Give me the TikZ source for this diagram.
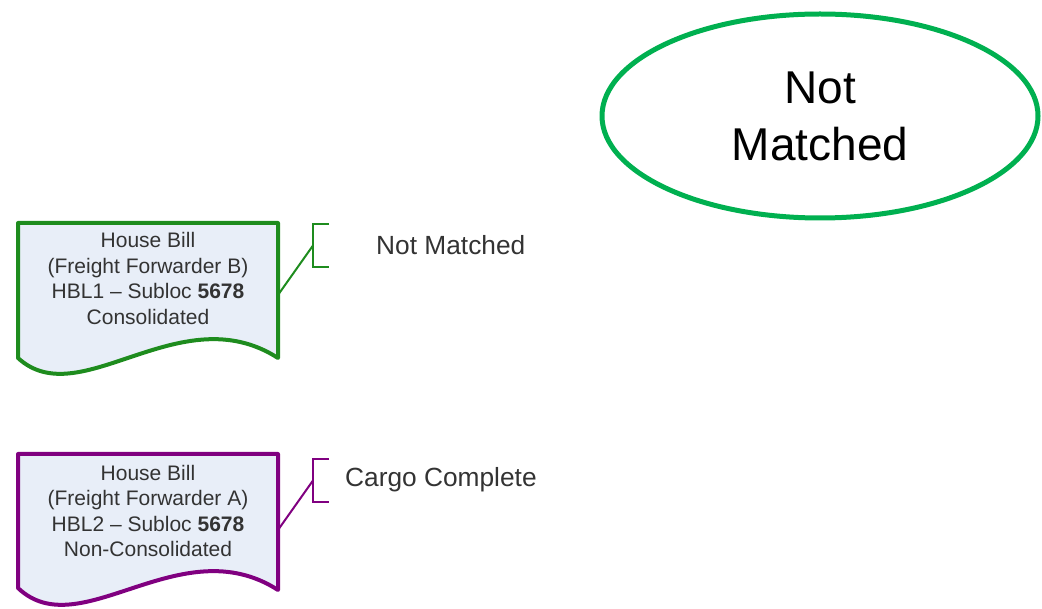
\documentclass[tikz,border=0pt]{standalone}
\usepackage{fontspec}
\setmainfont{Liberation Sans}
\usetikzlibrary{shapes.geometric}
\definecolor{docgreen}{RGB}{30,140,30}
\definecolor{docpurple}{RGB}{128,0,128}
\definecolor{ovalgreen}{RGB}{0,176,80}
\definecolor{docfill}{RGB}{232,238,248}
\definecolor{txtgray}{RGB}{51,51,51}
\tikzset{
  docshape/.style={line width=4pt, fill=docfill, line join=round},
  doctext/.style={align=center, inner sep=0pt, text=txtgray, font=\fontsize{21}{25.5}\selectfont},
  bracketline/.style={line width=2.5pt},
  linkline/.style={line width=2pt},
  lbl/.style={anchor=west, inner sep=0pt, text=txtgray, font=\fontsize{26.3}{30}\selectfont},
  oval/.style={ellipse, draw=ovalgreen, line width=5pt, minimum width=436pt, minimum height=204pt, inner sep=0pt, align=center, font=\fontsize{46}{57}\selectfont}
}
\begin{document}
\begin{tikzpicture}[x=1pt,y=-1pt]
\useasboundingbox (0,0) rectangle (1042,609);
% oval
\node[oval] (ov) at (820,116) {Not\\Matched};
% document 1
\draw[docshape, draw=docgreen] (18,223) -- (278,223) -- (278,358) .. controls (180,295) and (80,415) .. (18,358) -- cycle;
\node[doctext] (hb1) at (148,278.5) {House Bill\\(Freight Forwarder B)\\HBL1 -- Subloc \textbf{5678}\\Consolidated};
\coordinate (d1r) at (278,295);
\coordinate (b1) at (313,245.5);
\draw[bracketline, docgreen] (329,224) -- (313,224) -- (313,267) -- (329,267);
\draw[linkline, docgreen] (d1r) -- (b1);
\node[lbl] (l1) at (376,245) {Not Matched};
% document 2
\draw[docshape, draw=docpurple] (18,454) -- (278,454) -- (278,590) .. controls (180,527) and (80,647) .. (18,588) -- cycle;
\node[doctext] (hb2) at (148,511) {House Bill\\(Freight Forwarder A)\\HBL2 -- Subloc \textbf{5678}\\Non-Consolidated};
\coordinate (d2r) at (278,530);
\coordinate (b2) at (313,480.5);
\draw[bracketline, docpurple] (329,459) -- (313,459) -- (313,502) -- (329,502);
\draw[linkline, docpurple] (d2r) -- (b2);
\node[lbl] (l2) at (345,480) {Cargo Complete};
\end{tikzpicture}
\end{document}
